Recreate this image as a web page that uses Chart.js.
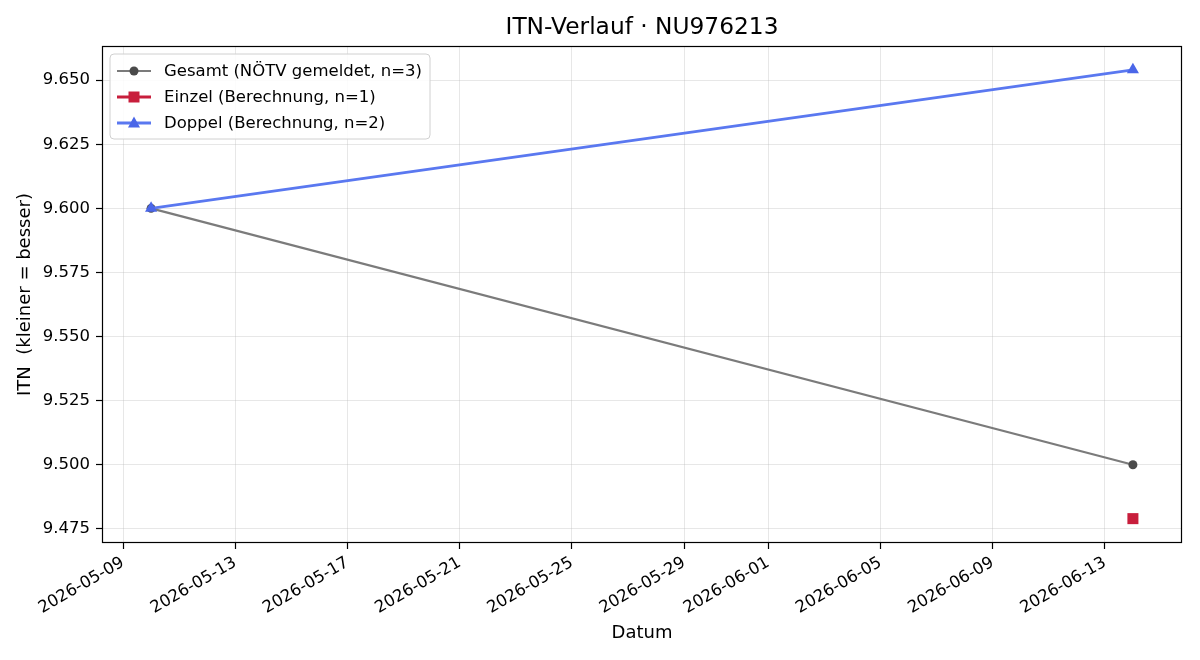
<!DOCTYPE html>
<html>
<head>
<meta charset="utf-8">
<script src="https://cdn.jsdelivr.net/npm/chart.js@4.4.1/dist/chart.umd.min.js"></script>
<style>
html,body{margin:0;padding:0;background:#fff;}
#wrap{width:1200px;height:660px;position:relative;}
</style>
</head>
<body>
<div id="wrap"><canvas id="c" width="1200" height="660"></canvas></div>
<script>
// ---- data ----
const gesamtDates = ['2026-05-10', '2026-06-14'];
const gesamtValues = [9.600, 9.500];
const einzelDates = ['2026-06-14'];
const einzelValues = [9.479];
const doppelDates = ['2026-05-10', '2026-06-14'];
const doppelValues = [9.600, 9.654];
const xTickLabels = ['2026-05-09','2026-05-13','2026-05-17','2026-05-21','2026-05-25','2026-05-29','2026-06-01','2026-06-05','2026-06-09','2026-06-13'];
const yTickValues = [9.475, 9.500, 9.525, 9.550, 9.575, 9.600, 9.625, 9.650];
const seriesLabels = ['Gesamt (NÖTV gemeldet, n=3)', 'Einzel (Berechnung, n=1)', 'Doppel (Berechnung, n=2)'];
const titleText = 'ITN-Verlauf · NU976213';
const xTitle = 'Datum';
const yTitle = 'ITN  (kleiner = besser)';

// ---- helpers ----
const BASE = Date.UTC(2026, 4, 9);
function dayOf(s){ const p = s.split('-').map(Number); return (Date.UTC(p[0], p[1]-1, p[2]) - BASE) / 86400000; }
function pts(dates, vals){ return dates.map((d,i)=>({x: dayOf(d), y: vals[i]})); }
const xTickVals = xTickLabels.map(dayOf);

const FONT = "'DejaVu Sans', sans-serif";
const colors = {
  gLine: '#7b7b7b', gPt: '#4a4a4a',
  eLine: '#c81e3c', ePt: '#c81e3c',
  dLine: '#5a78f0', dPt: '#4a66e8'
};

const legendPlugin = {
  id: 'mplLegendFrame',
  afterDraw(chart){
    const ctx = chart.ctx;
    const a = chart.chartArea;
    ctx.save();
    // title
    ctx.fillStyle = '#000';
    ctx.font = '23.3px ' + FONT;
    ctx.textAlign = 'center';
    ctx.textBaseline = 'middle';
    ctx.fillText(titleText, (a.left + a.right) / 2, 28);
    // frame
    ctx.strokeStyle = '#000';
    ctx.lineWidth = 1.2;
    ctx.strokeRect(Math.round(a.left)+0.5, Math.round(a.top)+0.5, Math.round(a.right-a.left)-1, Math.round(a.bottom-a.top)-1);
    // legend box
    const bx = 110, by = 54, bw = 320, bh = 85, r = 4;
    ctx.beginPath();
    ctx.moveTo(bx+r, by); ctx.lineTo(bx+bw-r, by); ctx.quadraticCurveTo(bx+bw, by, bx+bw, by+r);
    ctx.lineTo(bx+bw, by+bh-r); ctx.quadraticCurveTo(bx+bw, by+bh, bx+bw-r, by+bh);
    ctx.lineTo(bx+r, by+bh); ctx.quadraticCurveTo(bx, by+bh, bx, by+bh-r);
    ctx.lineTo(bx, by+r); ctx.quadraticCurveTo(bx, by, bx+r, by);
    ctx.closePath();
    ctx.fillStyle = 'rgba(255,255,255,0.85)';
    ctx.fill();
    ctx.strokeStyle = '#d0d0d0';
    ctx.lineWidth = 1;
    ctx.stroke();
    const rows = [71, 97, 123];
    chart.data.datasets.forEach((ds, i) => {
      const y = rows[i];
      ctx.strokeStyle = ds.borderColor;
      ctx.lineWidth = ds.legendLineWidth;
      ctx.beginPath(); ctx.moveTo(117, y); ctx.lineTo(151, y); ctx.stroke();
      ctx.fillStyle = ds.pointBackgroundColor;
      ctx.beginPath();
      if (ds.pointStyle === 'circle') { ctx.arc(134, y, 4.5, 0, Math.PI*2); }
      else if (ds.pointStyle === 'rect') { ctx.rect(134-5.5, y-5.5, 11, 11); }
      else { ctx.moveTo(134, y-6.5); ctx.lineTo(134+6, y+4.5); ctx.lineTo(134-6, y+4.5); ctx.closePath(); }
      ctx.fill();
      ctx.fillStyle = '#000';
      ctx.font = '16.5px ' + FONT;
      ctx.textBaseline = 'middle';
      ctx.textAlign = 'left';
      ctx.fillText(ds.label, 164, y+1);
    });
    ctx.restore();
  }
};

new Chart(document.getElementById('c'), {
  type: 'line',
  data: {
    datasets: [
      { label: seriesLabels[0], data: pts(gesamtDates, gesamtValues), order: 3, borderColor: colors.gLine, borderWidth: 2.2, legendLineWidth: 2.2,
        pointStyle: 'circle', pointRadius: 4.5, pointBackgroundColor: colors.gPt, pointBorderColor: colors.gPt, pointBorderWidth: 0, tension: 0 },
      { label: seriesLabels[1], data: pts(einzelDates, einzelValues), order: 2, borderColor: colors.eLine, borderWidth: 2.8, legendLineWidth: 2.8,
        pointStyle: 'rect', pointRadius: 7.8, pointBackgroundColor: colors.ePt, pointBorderColor: colors.ePt, pointBorderWidth: 0, tension: 0 },
      { label: seriesLabels[2], data: pts(doppelDates, doppelValues), order: 1, borderColor: colors.dLine, borderWidth: 2.8, legendLineWidth: 2.8,
        pointStyle: 'triangle', pointRadius: 7, pointBackgroundColor: colors.dPt, pointBorderColor: colors.dPt, pointBorderWidth: 0, tension: 0 }
    ]
  },
  options: {
    responsive: false,
    animation: false,
    devicePixelRatio: 1,
    layout: { padding: { left: 0, right: 18, top: 46, bottom: 0 } },
    plugins: {
      legend: { display: false },
      tooltip: { enabled: false },
      title: { display: false }
    },
    scales: {
      x: {
        type: 'linear', min: -0.75, max: 37.75,
        afterBuildTicks(scale){ scale.ticks = xTickVals.map(v => ({ value: v })); },
        afterFit(scale){ scale.height = 117; },
        ticks: { autoSkip: false, minRotation: 30, maxRotation: 30, padding: 4, color: '#000', font: { family: FONT, size: 16.5 },
          callback(v){ const i = xTickVals.indexOf(v); return i >= 0 ? xTickLabels[i] : ''; } },
        grid: { color: 'rgba(176,176,176,0.3)', lineWidth: 1, tickLength: 6, tickColor: '#000', tickWidth: 1.2, drawTicks: true },
        border: { display: false },
        title: { display: true, text: xTitle, color: '#000', font: { family: FONT, size: 18 }, padding: { top: 0, bottom: 16 } }
      },
      y: {
        type: 'linear', min: 9.4695, max: 9.6633,
        afterBuildTicks(scale){ scale.ticks = yTickValues.map(v => ({ value: v })); },
        afterFit(scale){ scale.width = 102; },
        ticks: { autoSkip: false, padding: 6, color: '#000', font: { family: FONT, size: 16.5 }, callback(v){ return Number(v).toFixed(3); } },
        grid: { color: 'rgba(176,176,176,0.3)', lineWidth: 1, tickLength: 6, tickColor: '#000', tickWidth: 1.2, drawTicks: true },
        border: { display: false },
        title: { display: true, text: yTitle, color: '#000', font: { family: FONT, size: 18 }, padding: { top: 15, bottom: 0 } }
      }
    }
  },
  plugins: [legendPlugin]
});
</script>
</body>
</html>
